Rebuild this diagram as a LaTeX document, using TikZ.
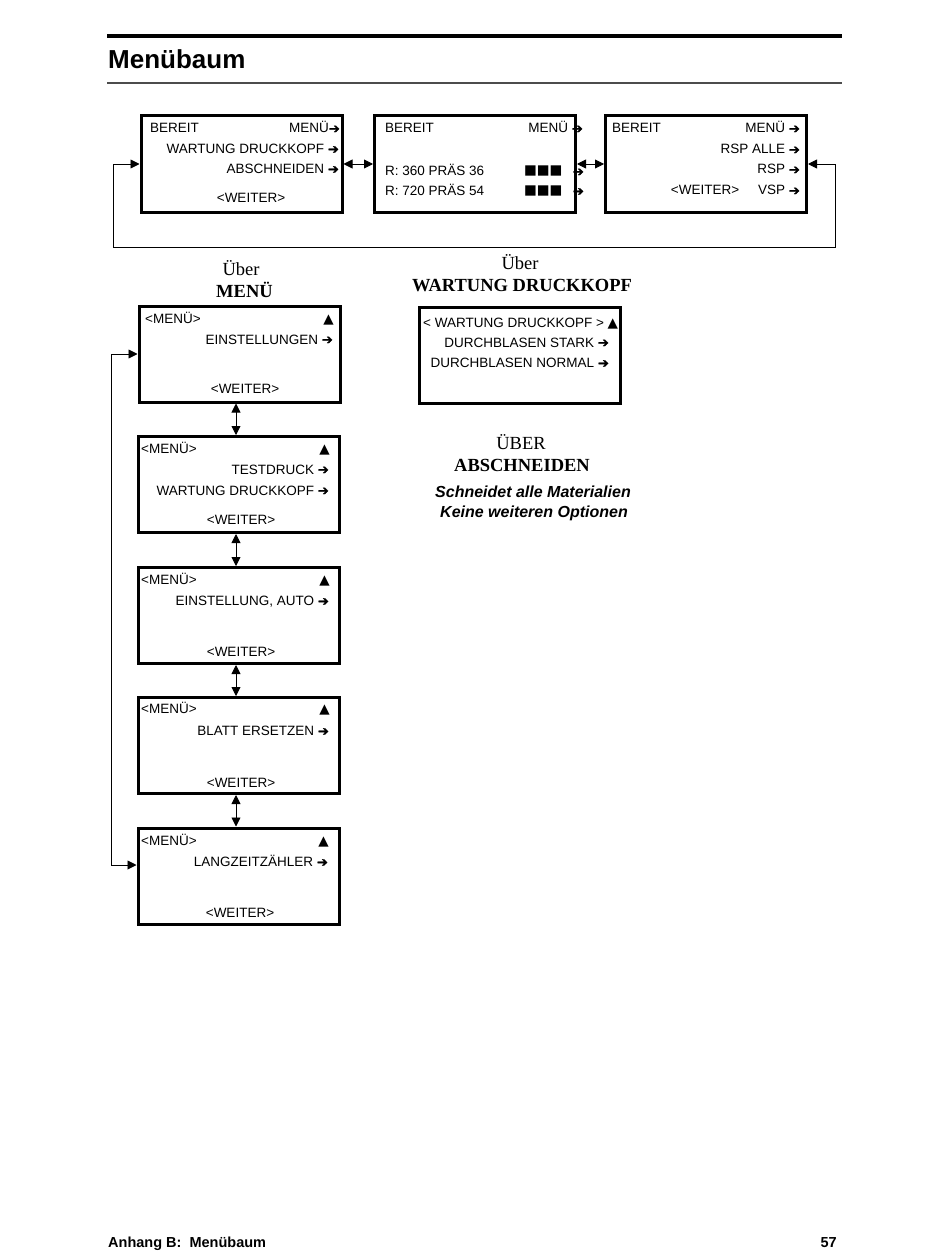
\documentclass[tikz,border=0pt]{standalone}
\usepackage{fontspec}
\setmainfont{Liberation Sans}
\newfontfamily\timesfont{Liberation Serif}
\newfontfamily\symfont{DejaVu Sans}
\newfontfamily\arrowfont[FakeBold=1.6]{DejaVu Sans}
\usetikzlibrary{arrows.meta,calc}

\newcommand{\rarr}{{\arrowfont\fontsize{13}{13}\selectfont ➔}}
\newcommand{\uptri}{{\symfont ▲}}
\newcommand{\blocks}{{\symfont\fontsize{13.5}{13.5}\selectfont ■■■}}

\tikzset{
  screen/.style={rectangle, draw, line width=3pt, minimum width=201pt, minimum height=96pt, inner sep=0pt},
  lcd/.style={inner sep=0pt, font=\fontsize{13.5}{16}\selectfont},
  head/.style={inner sep=0pt, anchor=base, font=\timesfont\fontsize{18.5}{22}\selectfont},
  headbf/.style={head, font=\timesfont\bfseries\fontsize{18.5}{22}\selectfont},
  arr/.style={-{Triangle[length=9pt,width=9pt]}, line width=0.9pt},
  dblarr/.style={{Triangle[length=9pt,width=9pt]}-{Triangle[length=9pt,width=9pt]}, line width=0.9pt},
}

\begin{document}
\begin{tikzpicture}[x=1pt, y=-1pt]
    \useasboundingbox (0,0) rectangle (950,1260);

    % Title
    \draw[line width=3.5pt] (107,36) -- (842,36);
    \node[anchor=base west, inner sep=0pt, font=\bfseries\fontsize{26}{30}\selectfont] (title) at (108,69) {Menübaum};
    \draw[line width=2pt, black!70] (107,83.5) -- (842,83.5);

    % Top row
    \node[screen] (bereit) at (241.5,164) {};
    \node[screen] (druck) at (475,164) {};
    \node[screen] (spule) at (706,164) {};

    \node[lcd, anchor=base west] (bereit1) at (150,133) {BEREIT};
    \node[lcd, anchor=base east] (bereit2) at (340,133) {MENÜ\rarr};
    \node[lcd, anchor=base east] (bereit3) at (339,153.5) {WARTUNG DRUCKKOPF \rarr};
    \node[lcd, anchor=base east] (bereit4) at (339,173.5) {ABSCHNEIDEN \rarr};
    \node[lcd, anchor=base] (bereit5) at (251,203) {<WEITER>};

    \node[lcd, anchor=base west] (druck1) at (385,133) {BEREIT};
    \node[lcd, anchor=base east] (druck2) at (583,133) {MENÜ \rarr};
    \node[lcd, anchor=base west] (druck3) at (385,176) {R: 360 PRÄS 36};
    \node[lcd, anchor=base west] (druck4) at (524,175) {\blocks};
    \node[lcd, anchor=base east] (druck5) at (584,176) {\rarr};
    \node[lcd, anchor=base west] (druck6) at (385,195.5) {R: 720 PRÄS 54};
    \node[lcd, anchor=base west] (druck7) at (524,195) {\blocks};
    \node[lcd, anchor=base east] (druck8) at (584,195.5) {\rarr};

    \node[lcd, anchor=base west] (spule1) at (612,133) {BEREIT};
    \node[lcd, anchor=base east] (spule2) at (800,133) {MENÜ \rarr};
    \node[lcd, anchor=base east] (spule3) at (800,154) {RSP ALLE \rarr};
    \node[lcd, anchor=base east] (spule4) at (800,174) {RSP \rarr};
    \node[lcd, anchor=base] (spule5) at (705,195) {<WEITER>};
    \node[lcd, anchor=base east] (spule6) at (800,195) {VSP \rarr};

    \draw[dblarr] (bereit.east) -- (druck.west);
    \draw[dblarr] (druck.east) -- (spule.west);

    % Return loop
    \coordinate (rueckL) at (113,247);
    \coordinate (rueckR) at (835,247);
    \draw[dblarr] (bereit.west) -| (rueckL) -- (rueckR) |- (spule.east);

    % Headings
    \node[head] (ueber1) at (241,275) {Über};
    \node[headbf] (ueber2) at (244.5,297) {MENÜ};
    \node[head] (ueber3) at (520,269) {Über};
    \node[headbf] (ueber4) at (522,291) {WARTUNG DRUCKKOPF};

    % Menu column
    \node[screen] (einst) at (239.5,354) {};
    \node[screen] (test) at (238.5,484.5) {};
    \node[screen] (auto) at (239,615.5) {};
    \node[screen] (blatt) at (239,745.5) {};
    \node[screen] (zaehler) at (238.5,876) {};

    \node[lcd, anchor=base west] (einst1) at (145,323) {<MENÜ>};
    \node[lcd, anchor=base east] (einst2) at (334,323) {\uptri};
    \node[lcd, anchor=base east] (einst3) at (333,344) {EINSTELLUNGEN \rarr};
    \node[lcd, anchor=base] (einst4) at (245,393) {<WEITER>};

    \node[lcd, anchor=base west] (test1) at (141,453) {<MENÜ>};
    \node[lcd, anchor=base east] (test2) at (330,453) {\uptri};
    \node[lcd, anchor=base east] (test3) at (329,474) {TESTDRUCK \rarr};
    \node[lcd, anchor=base east] (test4) at (329,495) {WARTUNG DRUCKKOPF \rarr};
    \node[lcd, anchor=base] (test5) at (241,524) {<WEITER>};

    \node[lcd, anchor=base west] (auto1) at (141,584) {<MENÜ>};
    \node[lcd, anchor=base east] (auto2) at (330,584) {\uptri};
    \node[lcd, anchor=base east] (auto3) at (329,605.5) {EINSTELLUNG, AUTO \rarr};
    \node[lcd, anchor=base] (auto4) at (241,656) {<WEITER>};

    \node[lcd, anchor=base west] (blatt1) at (141,713.5) {<MENÜ>};
    \node[lcd, anchor=base east] (blatt2) at (330,713.5) {\uptri};
    \node[lcd, anchor=base east] (blatt3) at (329,735.5) {BLATT ERSETZEN \rarr};
    \node[lcd, anchor=base] (blatt4) at (241,787) {<WEITER>};

    \node[lcd, anchor=base west] (zaehler1) at (141,845) {<MENÜ>};
    \node[lcd, anchor=base east] (zaehler2) at (329,845) {\uptri};
    \node[lcd, anchor=base east] (zaehler3) at (328,866.5) {LANGZEITZÄHLER \rarr};
    \node[lcd, anchor=base] (zaehler4) at (240,917) {<WEITER>};

    \coordinate (achse) at (236,0);
    \draw[dblarr] (einst.south -| achse) -- (test.north -| achse);
    \draw[dblarr] (test.south -| achse) -- (auto.north -| achse);
    \draw[dblarr] (auto.south -| achse) -- (blatt.north -| achse);
    \draw[dblarr] (blatt.south -| achse) -- (zaehler.north -| achse);

    \coordinate (menuL) at (111,0);
    \draw[dblarr] (einst.west) -- (einst.west -| menuL) |- ([yshift=11pt]zaehler.west);

    % Wartung Druckkopf
    \node[screen] (wartung) at (520,355) {};
    \node[lcd, anchor=base west] (wartung1) at (423,327) {< WARTUNG DRUCKKOPF > \uptri};
    \node[lcd, anchor=base east] (wartung2) at (609,347) {DURCHBLASEN STARK \rarr};
    \node[lcd, anchor=base east] (wartung3) at (609,367.5) {DURCHBLASEN NORMAL \rarr};

    % Abschneiden
    \node[head] (schnitt1) at (521,449) {ÜBER};
    \node[headbf] (schnitt2) at (522,471) {ABSCHNEIDEN};
    \node[inner sep=0pt, anchor=base, font=\bfseries\itshape\fontsize{16}{19}\selectfont] (schnitt3) at (533,497) {Schneidet alle Materialien};
    \node[inner sep=0pt, anchor=base, font=\bfseries\itshape\fontsize{16}{19}\selectfont] (schnitt4) at (534,517) {Keine weiteren Optionen};

    % Footer
    \node[anchor=base west, inner sep=0pt, font=\bfseries\fontsize{14.5}{17}\selectfont] (fuss1) at (108,1247) {Anhang B:\ \ Menübaum};
    \node[anchor=base east, inner sep=0pt, font=\bfseries\fontsize{14.5}{17}\selectfont] (fuss2) at (837,1247) {57};
\end{tikzpicture}
\end{document}
